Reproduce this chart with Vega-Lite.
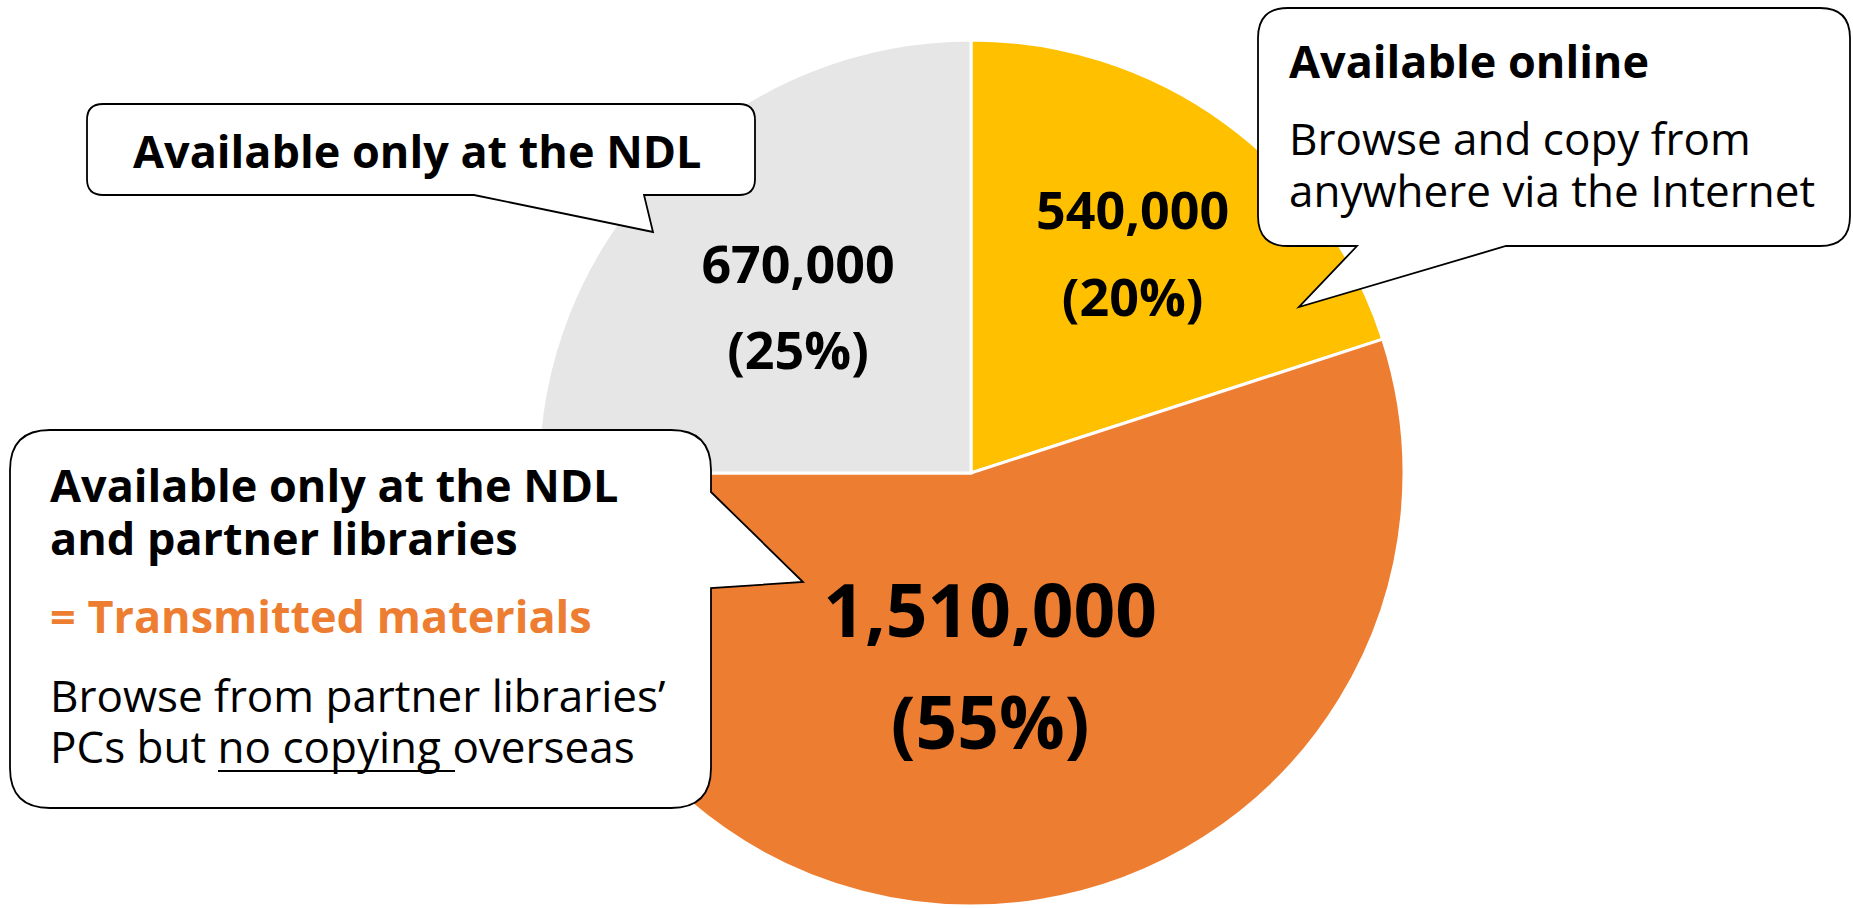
{
  "$schema": "https://vega.github.io/schema/vega-lite/v6.json",
  "width": 1764,
  "height": 870,
  "padding": {"left": 89, "top": 38, "right": 0, "bottom": 0},
  "autosize": "none",
  "background": "white",
  "config": {"view": {"stroke": null}},
  "datasets": {
    "slices": [
      {"name": "Available online", "value": 540000, "pct": 20, "k": 1, "label": "540,000\n(20%)"},
      {"name": "Transmitted materials", "value": 1510000, "pct": 55, "k": 2, "label": "1,510,000\n(55%)"},
      {"name": "Available only at the NDL", "value": 670000, "pct": 25, "k": 3, "label": "670,000\n (25%)"}
    ],
    "bubbles": [
      {"id": "ndl", "x": 87, "y": 104},
      {"id": "online", "x": 1258, "y": 8},
      {"id": "partner", "x": 10, "y": 430}
    ],
    "boldText": [
      {"t": "Available only at the NDL", "x": 133, "y": 168},
      {"t": "Available online", "x": 1289, "y": 78},
      {"t": "Available only at the NDL", "x": 50, "y": 502},
      {"t": "and partner libraries", "x": 50, "y": 555}
    ],
    "orangeText": [
      {"t": "= Transmitted materials", "x": 50, "y": 633}
    ],
    "regularText": [
      {"t": "Browse and copy from", "x": 1289, "y": 155},
      {"t": "anywhere via the Internet", "x": 1289, "y": 207},
      {"t": "Browse from partner libraries’", "x": 50, "y": 712},
      {"t": "PCs but no copying overseas", "x": 50, "y": 763}
    ],
    "underline": [
      {"x": 218, "x2": 455, "y": 771}
    ]
  },
  "layer": [
    {
      "data": {"name": "slices"},
      "mark": {"type": "arc", "outerRadius": 433, "stroke": "white", "strokeWidth": 3},
      "encoding": {
        "theta": {"field": "pct", "type": "quantitative", "stack": true},
        "order": {"field": "k", "type": "quantitative"},
        "color": {"field": "name", "type": "nominal", "legend": null,
          "scale": {"domain": ["Available online", "Transmitted materials", "Available only at the NDL"], "range": ["#FFC000", "#ED7D31", "#E7E6E6"]}}
      }
    },
    {
      "data": {"name": "slices"},
      "mark": {"type": "text", "radius": 275, "dy": -38, "font": "Open Sans", "fontWeight": "bold", "fontSize": 52, "lineHeight": 87, "lineBreak": "\n", "align": "center", "baseline": "middle", "color": "black"},
      "encoding": {
        "theta": {"field": "pct", "type": "quantitative", "stack": true},
        "order": {"field": "k", "type": "quantitative"},
        "detail": {"field": "name", "type": "nominal"},
        "text": {"condition": {"test": "datum.k === 1", "field": "label"}, "value": ""}
      }
    },
    {
      "data": {"name": "slices"},
      "mark": {"type": "text", "radius": 239, "dy": -37, "dx": -4, "font": "Open Sans", "fontWeight": "bold", "fontSize": 52, "lineHeight": 86, "lineBreak": "\n", "align": "center", "baseline": "middle", "color": "black"},
      "encoding": {
        "theta": {"field": "pct", "type": "quantitative", "stack": true},
        "order": {"field": "k", "type": "quantitative"},
        "detail": {"field": "name", "type": "nominal"},
        "text": {"condition": {"test": "datum.k === 3", "field": "label"}, "value": ""}
      }
    },
    {
      "data": {"name": "slices"},
      "mark": {"type": "text", "radius": 199, "dy": -55, "dx": -12, "font": "Open Sans", "fontWeight": "bold", "fontSize": 73, "lineHeight": 112, "lineBreak": "\n", "align": "center", "baseline": "middle", "color": "black"},
      "encoding": {
        "theta": {"field": "pct", "type": "quantitative", "stack": true},
        "order": {"field": "k", "type": "quantitative"},
        "detail": {"field": "name", "type": "nominal"},
        "text": {"condition": {"test": "datum.k === 2", "field": "label"}, "value": ""}
      }
    },
    {
      "data": {"name": "bubbles"},
      "mark": {"type": "point", "filled": true, "fill": "white", "stroke": "black", "strokeWidth": 1.8, "size": 4, "opacity": 1, "fillOpacity": 1, "strokeOpacity": 1},
      "encoding": {
        "x": {"field": "x", "type": "quantitative", "scale": {"domain": [89, 1853], "nice": false, "zero": false}, "axis": null},
        "y": {"field": "y", "type": "quantitative", "scale": {"domain": [38, 908], "nice": false, "zero": false, "reverse": true}, "axis": null},
        "shape": {"field": "id", "type": "nominal", "legend": null,
          "scale": {"domain": ["ndl", "online", "partner"], "range": [
            "M16,0 L652,0 Q668,0 668,16 L668,75 Q668,91 652,91 L557,91 L566,128 L387,91 L16,91 Q0,91 0,75 L0,16 Q0,0 16,0 Z",
            "M30,0 L562,0 Q592,0 592,30 L592,208 Q592,238 562,238 L248,238 L41,299 L99,238 L30,238 Q0,238 0,208 L0,30 Q0,0 30,0 Z",
            "M40,0 L661,0 Q701,0 701,40 L701,62 L793,152 L701,158 L701,338 Q701,378 661,378 L40,378 Q0,378 0,338 L0,40 Q0,0 40,0 Z"
          ]}}
      }
    },
    {
      "data": {"name": "boldText"},
      "mark": {"type": "text", "font": "Open Sans", "fontWeight": "bold", "fontSize": 45, "align": "left", "baseline": "alphabetic", "color": "black"},
      "encoding": {
        "x": {"field": "x", "type": "quantitative"},
        "y": {"field": "y", "type": "quantitative"},
        "text": {"field": "t"}
      }
    },
    {
      "data": {"name": "orangeText"},
      "mark": {"type": "text", "font": "Open Sans", "fontWeight": "bold", "fontSize": 45, "align": "left", "baseline": "alphabetic", "color": "#ED7D31"},
      "encoding": {
        "x": {"field": "x", "type": "quantitative"},
        "y": {"field": "y", "type": "quantitative"},
        "text": {"field": "t"}
      }
    },
    {
      "data": {"name": "regularText"},
      "mark": {"type": "text", "font": "Open Sans", "fontSize": 44, "align": "left", "baseline": "alphabetic", "color": "black"},
      "encoding": {
        "x": {"field": "x", "type": "quantitative"},
        "y": {"field": "y", "type": "quantitative"},
        "text": {"field": "t"}
      }
    },
    {
      "data": {"name": "underline"},
      "mark": {"type": "rule", "color": "black", "strokeWidth": 2},
      "encoding": {
        "x": {"field": "x", "type": "quantitative"},
        "x2": {"field": "x2"},
        "y": {"field": "y", "type": "quantitative"}
      }
    }
  ]
}
